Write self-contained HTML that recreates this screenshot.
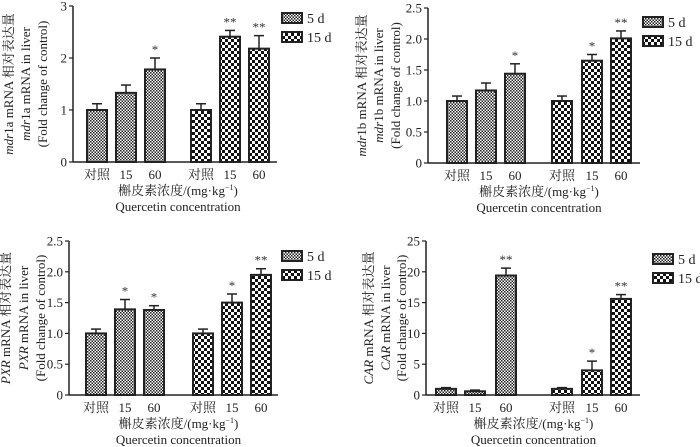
<!DOCTYPE html>
<html><head><meta charset="utf-8">
<style>
html,body{margin:0;padding:0;background:#fff;}
svg{display:block;font-family:"Liberation Serif","Noto Serif CJK SC",serif;}
</style></head>
<body>
<svg id="fig" width="700" height="447" viewBox="0 0 700 447" xmlns="http://www.w3.org/2000/svg">
<defs>
<pattern id="fine" width="3" height="3" patternUnits="userSpaceOnUse">
<rect width="3" height="3" fill="#fff"/><rect width="1.5" height="1.5" fill="#222"/><rect x="1.5" y="1.5" width="1.5" height="1.5" fill="#222"/>
</pattern>
<pattern id="coarse" width="6" height="6" patternUnits="userSpaceOnUse">
<rect width="6" height="6" fill="#fff"/><rect width="3" height="3" fill="#111"/><rect x="3" y="3" width="3" height="3" fill="#111"/>
</pattern>
</defs>
</svg>
<script>
const categories = ["对照","15","60"];
const series = ["5 d","15 d"];
// chart 1: mdr1a
const c1v5 = [1.0,1.33,1.78], c1e5 = [0.12,0.15,0.22], c1s5 = ["","","*"];
const c1v15 = [1.0,2.41,2.18], c1e15 = [0.12,0.12,0.25], c1s15 = ["","**","**"];
const c1ticks = ["0","1","2","3"];
// chart 2: mdr1b
const c2v5 = [1.0,1.17,1.44], c2e5 = [0.08,0.12,0.16], c2s5 = ["","","*"];
const c2v15 = [1.0,1.65,2.01], c2e15 = [0.08,0.1,0.12], c2s15 = ["","*","**"];
const c2ticks = ["0","0.5","1.0","1.5","2.0","2.5"];
// chart 3: PXR
const c3v5 = [1.0,1.39,1.38], c3e5 = [0.07,0.16,0.07], c3s5 = ["","*","*"];
const c3v15 = [1.0,1.5,1.95], c3e15 = [0.07,0.14,0.1], c3s15 = ["","*","**"];
const c3ticks = ["0","0.5","1.0","1.5","2.0","2.5"];
// chart 4: CAR
const c4v5 = [1.0,0.6,19.4], c4e5 = [0.2,0.2,1.2], c4s5 = ["","","**"];
const c4v15 = [1.0,4.0,15.6], c4e15 = [0.2,1.5,0.7], c4s15 = ["","*","**"];
const c4ticks = ["0","5","10","15","20","25"];

const NS="http://www.w3.org/2000/svg";
const svg=document.getElementById('fig');
function el(tag,attrs,parent,txt){const e=document.createElementNS(NS,tag);for(const k in attrs)e.setAttribute(k,attrs[k]);if(txt!==undefined)e.textContent=txt;(parent||svg).appendChild(e);return e;}

function chart(cfg){
  const g=el('g',{});
  
  
  const ax=cfg.ax, top=cfg.top, bot=cfg.bot, ymax=+cfg.ticks[cfg.ticks.length-1];
  const y=v=>bot-(v/ymax)*(bot-top);
  // axes
  const ya=el('line',{x1:ax,y1:top,x2:ax,y2:bot,stroke:'#222','stroke-width':1.5},g);
  
  
  const xa=el('line',{x1:ax,y1:bot,x2:cfg.xend,y2:bot,stroke:'#222','stroke-width':1.5},g);
  
  
  cfg.ticks.forEach(t=>{
    const ty=y(+t);
    el('line',{x1:ax-4,y1:ty,x2:ax,y2:ty,stroke:'#222','stroke-width':1.2},g);
    const tl=el('text',{x:ax-6,y:ty+4.5,'text-anchor':'end','font-size':13,fill:'#222'},g,t);
    
    
  });
  const groups=[[cfg.v5,cfg.e5,cfg.s5,'url(#fine)'],[cfg.v15,cfg.e15,cfg.s15,'url(#coarse)']];
  groups.forEach((gr,gi)=>{
    gr[0].forEach((v,i)=>{
      const bx=cfg.bars[gi*3+i], w=20, cx=bx+w/2;
      const ey=y(v+gr[1][i]);
      el('line',{x1:cx,y1:ey,x2:cx,y2:y(v),stroke:'#222','stroke-width':1.5},g);
      el('line',{x1:cx-5,y1:ey,x2:cx+5,y2:ey,stroke:'#222','stroke-width':1.5},g);
      const r=el('rect',{x:bx,y:y(v),width:w,height:bot-y(v),fill:gr[3],stroke:'#222','stroke-width':2},g);
      
      
      if(gr[2][i]){
        const s=el('text',{x:cx,y:ey-4,'text-anchor':'middle','font-size':13,fill:'#333'},g,gr[2][i]);
        
        
      }
      const xl=el('text',{x:cx,y:bot+17,'text-anchor':'middle','font-size':13,fill:'#222'},g,categories[i]);
      
      
    });
  });
  const mid=(cfg.bars[0]+cfg.bars[5]+20)/2;
  const t1=el('text',{x:mid,y:bot+33,'text-anchor':'middle','font-size':13,fill:'#222'},g);
  t1.innerHTML='槲皮素浓度/(mg·kg<tspan dy="-5" font-size="8">−1</tspan><tspan dy="5">)</tspan>';
  
  
  const t2=el('text',{x:mid,y:bot+49,'text-anchor':'middle','font-size':13,fill:'#222'},g,'Quercetin concentration');
  
  
  // y titles
  const cy=(top+bot)/2;
  const yl=[[cfg.yx[0],'<tspan font-style="italic">'+cfg.gi+'</tspan>'+cfg.gr+' mRNA 相对表达量'],
            [cfg.yx[1],'<tspan font-style="italic">'+cfg.gi+'</tspan>'+cfg.gr+' mRNA in liver'],
            [cfg.yx[2],'(Fold change of control)']];
  yl.forEach(([x,h])=>{
    const t=el('text',{x:x,y:cy,'text-anchor':'middle','font-size':13,fill:'#222',transform:`rotate(-90 ${x} ${cy})`},g);
    t.innerHTML=h;
    
    
  });
  // legend
  series.forEach((s,i)=>{
    const ly=cfg.leg[1]+i*19;
    const lr=el('rect',{x:cfg.leg[0],y:ly,width:20,height:10,fill:i?'url(#coarse)':'url(#fine)',stroke:'#222','stroke-width':2},g);
    
    
    const lt=el('text',{x:cfg.leg[0]+25,y:ly+10,'font-size':14,fill:'#222'},g,s);
    
    
  });
}
chart({name:'chart-mdr1a',ax:73,top:6,bot:162,xend:277,ticks:c1ticks,v5:c1v5,e5:c1e5,s5:c1s5,v15:c1v15,e15:c1e15,s15:c1s15,bars:[87,116,145,191,220,249],yx:[13,30,47],gi:'mdr',gr:'1a',leg:[282,13]});
chart({name:'chart-mdr1b',ax:428,top:8,bot:163,xend:640,ticks:c2ticks,v5:c2v5,e5:c2e5,s5:c2s5,v15:c2v15,e15:c2e15,s15:c2s15,bars:[447,476,505,552,582,611],yx:[366,383,400],gi:'mdr',gr:'1b',leg:[643,17]});
chart({name:'chart-pxr',ax:69,top:241,bot:395,xend:278,ticks:c3ticks,v5:c3v5,e5:c3e5,s5:c3s5,v15:c3v15,e15:c3e15,s15:c3s15,bars:[86,115,144,193,222,251],yx:[10,28,45],gi:'PXR',gr:'',leg:[282,251]});
chart({name:'chart-car',ax:426,top:241,bot:395,xend:640,ticks:c4ticks,v5:c4v5,e5:c4e5,s5:c4s5,v15:c4v15,e15:c4e15,s15:c4s15,bars:[436,465,496,552,582,611],yx:[373,390,406],gi:'CAR',gr:'',leg:[653,254]});
</script>
</body></html>
